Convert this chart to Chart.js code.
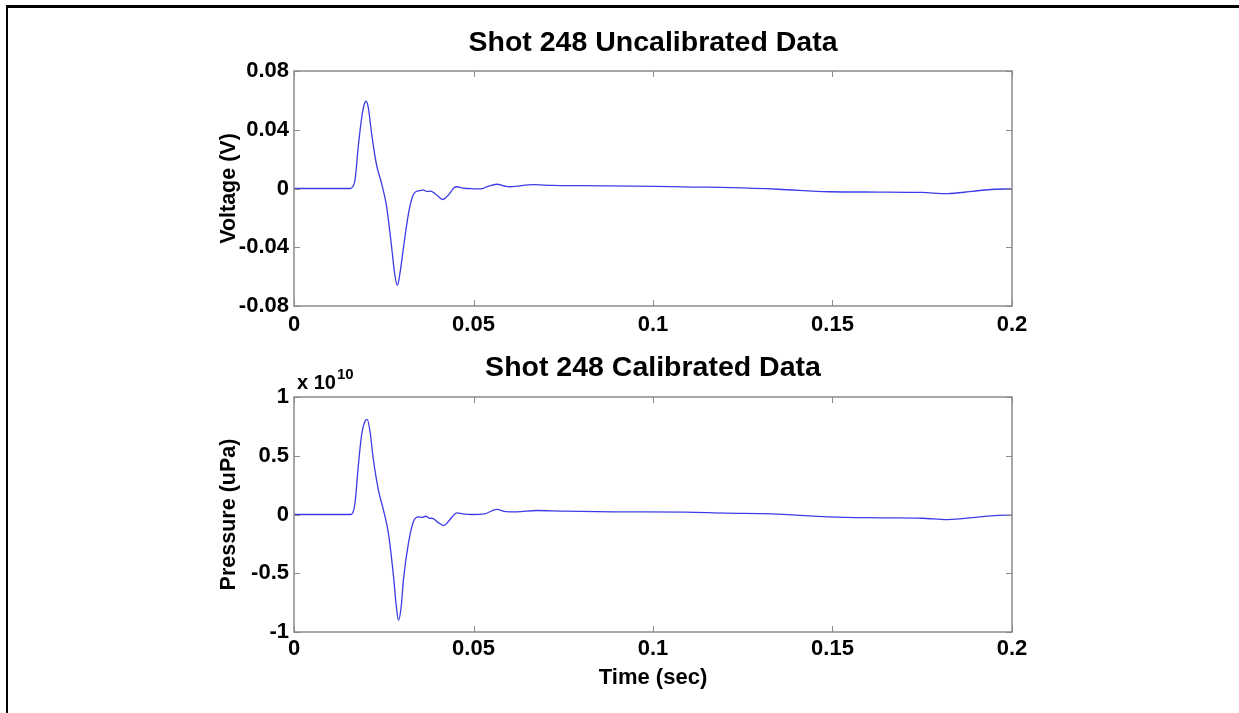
<!DOCTYPE html>
<html>
<head>
<meta charset="utf-8">
<script src="https://cdn.jsdelivr.net/npm/chart.js@4.4.1/dist/chart.umd.min.js"></script>
<style>
  html, body { margin: 0; padding: 0; background: #fff; overflow: hidden; }
  body { width: 1239px; height: 713px; position: relative; }
  #frame { position: absolute; left: 6px; top: 5px; width: 1300px; height: 800px;
           border-left: 2px solid #000; border-top: 3px solid #000; box-sizing: border-box; }
  .wrap { position: absolute; left: 0; width: 1239px; }
  #w1 { top: 0; height: 345px; }
  #w2 { top: 345px; height: 368px; }
</style>
</head>
<body>
<div id="frame"></div>
<div class="wrap" id="w1"><canvas id="c1" width="1239" height="345"></canvas></div>
<div class="wrap" id="w2"><canvas id="c2" width="1239" height="368"></canvas></div>
<script>
// ---------- data ----------
const timeV = [0, 0.0157, 0.0163, 0.017, 0.0179, 0.0189, 0.0196, 0.0201, 0.0207, 0.0216, 0.023, 0.0244,
  0.0258, 0.0272, 0.0281, 0.0288, 0.0295, 0.0305, 0.0319, 0.033, 0.034, 0.035, 0.036, 0.037, 0.038,
  0.039, 0.040, 0.0414, 0.043, 0.0445, 0.0453, 0.047, 0.050, 0.052, 0.054, 0.0565, 0.059, 0.0602,
  0.0666, 0.072, 0.0797, 0.095, 0.111, 0.122, 0.135, 0.149, 0.163, 0.175, 0.182, 0.189, 0.195, 0.2];
const voltage = [0, 0, 0.001, 0.0058, 0.0286, 0.049, 0.0575, 0.0594, 0.055, 0.0377, 0.016, 0.0035,
  -0.0124, -0.040, -0.059, -0.066, -0.058, -0.040, -0.017, -0.0056, -0.002, -0.0015, -0.001, -0.002, -0.0018,
  -0.003, -0.005, -0.0075, -0.0045, 0.0003, 0.0012, 0.0003, -0.0002, -0.0003, 0.0015, 0.0029, 0.0015, 0.0012,
  0.0026, 0.0021, 0.0019, 0.0016, 0.001, 0.0006, -0.0005, -0.0022, -0.0024, -0.0027, -0.0035, -0.0019, -0.0005, -0.0003];

const timeP = [0, 0.0158, 0.0163, 0.017, 0.0179, 0.0188, 0.0197, 0.0204, 0.0212, 0.0221, 0.0235, 0.0249,
  0.0263, 0.0277, 0.0285, 0.0291, 0.0298, 0.0305, 0.0319, 0.0333, 0.0347, 0.0357, 0.0367, 0.0377, 0.0388,
  0.040, 0.0418, 0.043, 0.0445, 0.0453, 0.047, 0.050, 0.053, 0.0565, 0.059, 0.062, 0.0676, 0.075, 0.089,
  0.109, 0.120, 0.133, 0.149, 0.163, 0.175, 0.182, 0.191, 0.195, 0.2];
// pressure in units of 1e10 uPa
const pressure = [0, 0, 0.01, 0.10, 0.41, 0.67, 0.79, 0.81, 0.70, 0.47, 0.21, 0.04,
  -0.16, -0.52, -0.78, -0.90, -0.80, -0.55, -0.24, -0.057, -0.02, -0.025, -0.015, -0.03, -0.035,
  -0.065, -0.094, -0.06, -0.005, 0.014, 0.005, 0.0, 0.005, 0.043, 0.025, 0.023, 0.034, 0.028, 0.023,
  0.02, 0.012, 0.006, -0.02, -0.028, -0.032, -0.043, -0.02, -0.009, -0.005];
const pressureExponent = '10';

const xTicks = [0, 0.05, 0.1, 0.15, 0.2];
const xTickLabels = ['0', '0.05', '0.1', '0.15', '0.2'];
const vTicks = [-0.08, -0.04, 0, 0.04, 0.08];
const vTickLabels = ['-0.08', '-0.04', '0', '0.04', '0.08'];
const pTicks = [-1, -0.5, 0, 0.5, 1];
const pTickLabels = ['-1', '-0.5', '0', '0.5', '1'];

// ---------- styling ----------
const FONT = '"Liberation Sans", Arial, Helvetica, sans-serif';
const LINE = 'rgb(60,60,230)';
const AXIS = '#8a8a8a';
const TICK_SIZE = 22;

const boxPlugin = {
  id: 'matlabBox',
  afterDatasetsDraw(chart) {
    const {ctx, chartArea: a, scales} = chart;
    ctx.save();
    ctx.strokeStyle = AXIS;
    ctx.lineWidth = 1.5;
    ctx.strokeRect(a.left, a.top, a.right - a.left, a.bottom - a.top);
    ctx.lineWidth = 1;
    const L = 6;
    ctx.beginPath();
    scales.x.ticks.forEach((t, i) => {
      const x = Math.round(scales.x.getPixelForTick(i)) + 0.5;
      ctx.moveTo(x, a.bottom); ctx.lineTo(x, a.bottom - L);
      ctx.moveTo(x, a.top); ctx.lineTo(x, a.top + L);
    });
    scales.y.ticks.forEach((t, i) => {
      const y = Math.round(scales.y.getPixelForTick(i)) + 0.5;
      ctx.moveTo(a.left, y); ctx.lineTo(a.left + L, y);
      ctx.moveTo(a.right, y); ctx.lineTo(a.right - L, y);
    });
    ctx.stroke();
    if (chart.options.plugins.exponentLabel && chart.options.plugins.exponentLabel.text) {
      ctx.fillStyle = '#000';
      ctx.textBaseline = 'alphabetic';
      ctx.font = 'bold 20px ' + FONT;
      const bx = a.left + 3, by = a.top - 8;
      ctx.fillText('x 10', bx, by);
      const w = ctx.measureText('x 10').width;
      ctx.font = 'bold 15px ' + FONT;
      ctx.fillText(chart.options.plugins.exponentLabel.text, bx + w + 1, by - 10);
    }
    ctx.restore();
  }
};

function makeChart(id, times, values, yTicks, yLabels, yMin, yMax, cfg) {
  const pts = times.map((t, i) => ({x: t, y: values[i]}));
  return new Chart(document.getElementById(id), {
    type: 'line',
    data: { datasets: [{ data: pts, borderColor: LINE, borderWidth: 1.3, pointRadius: 0,
      cubicInterpolationMode: 'monotone', fill: false }] },
    options: {
      responsive: false, animation: false,
      layout: { padding: { left: 200, right: 227, top: 0, bottom: 0 } },
      plugins: {
        legend: { display: false }, tooltip: { enabled: false },
        title: { display: true, text: cfg.title, fullSize: false, color: '#000',
          font: { family: FONT, size: 28.5, weight: 'bold', lineHeight: 1.2 },
          padding: { top: cfg.titlePadTop, bottom: cfg.titlePadBottom } },
        exponentLabel: { text: cfg.exponent || '' }
      },
      scales: {
        x: {
          type: 'linear', min: 0, max: 0.2,
          afterBuildTicks: s => { s.ticks = xTicks.map(v => ({value: v})); },
          afterFit: s => { s.height = cfg.xHeight; },
          grid: { display: false, drawTicks: false },
          border: { display: false },
          ticks: { color: '#000', padding: cfg.xTickPad, maxRotation: 0, autoSkip: false,
            font: { family: FONT, size: TICK_SIZE, weight: 'bold', lineHeight: 1.2 },
            callback: (v, i) => xTickLabels[i] },
          title: { display: !!cfg.xTitle, text: cfg.xTitle || '', color: '#000',
            font: { family: FONT, size: 22, weight: 'bold', lineHeight: 1.2 },
            padding: { top: 0, bottom: cfg.xTitlePadBottom || 0 } }
        },
        y: {
          type: 'linear', min: yMin, max: yMax,
          afterBuildTicks: s => { s.ticks = yTicks.map(v => ({value: v})); },
          afterFit: s => { s.width = 94; },
          grid: { display: false, drawTicks: false },
          border: { display: false },
          ticks: { color: '#000', padding: 5, autoSkip: false,
            font: { family: FONT, size: TICK_SIZE, weight: 'bold', lineHeight: 1.2 },
            callback: (v, i) => yLabels[i] },
          title: { display: true, text: cfg.yTitle, color: '#000',
            font: { family: FONT, size: 21.5, weight: 'bold', lineHeight: 1.2 },
            padding: { top: 16, bottom: 0 } }
        }
      }
    },
    plugins: [boxPlugin]
  });
}

makeChart('c1', timeV, voltage, vTicks, vTickLabels, -0.08, 0.08, {
  title: 'Shot 248 Uncalibrated Data', titlePadTop: 26, titlePadBottom: 10.8,
  xHeight: 39, xTickPad: 6, yTitle: 'Voltage (V)'
});
makeChart('c2', timeP, pressure, pTicks, pTickLabels, -1, 1, {
  title: 'Shot 248 Calibrated Data', titlePadTop: 6, titlePadBottom: 11.8,
  xHeight: 81, xTickPad: 4, yTitle: 'Pressure (uPa)', xTitle: 'Time (sec)', xTitlePadBottom: 22,
  exponent: pressureExponent
});
</script>
</body>
</html>
